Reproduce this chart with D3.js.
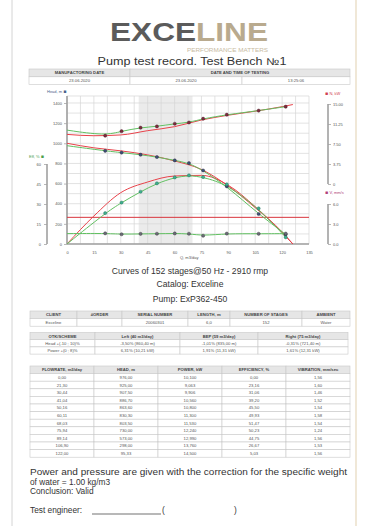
<!DOCTYPE html>
<html><head><meta charset="utf-8">
<script src="https://cdn.jsdelivr.net/npm/d3@7"></script>
<style>
html,body{margin:0;padding:0;background:#fff;}
svg{display:block;font-family:"Liberation Sans",Arial,sans-serif;}
</style></head>
<body><svg id="c" width="367" height="526"></svg>
<script>
// ---- data ----
const flow   = [0.00, 21.30, 30.44, 41.04, 50.16, 60.11, 68.03, 75.94, 89.14, 106.90, 122.00];
const head   = [976.00, 925.00, 907.50, 886.70, 863.60, 830.30, 803.50, 730.00, 573.00, 298.00, 95.33];
const power  = [10.100, 9.063, 9.906, 10.560, 10.800, 11.300, 11.530, 12.240, 12.990, 13.760, 14.500];
const eff    = [0.00, 23.16, 31.06, 39.20, 45.50, 49.93, 51.47, 50.23, 44.75, 26.67, 5.03];
const vib    = [1.56, 1.60, 1.46, 1.52, 1.54, 1.58, 1.54, 1.24, 1.56, 1.53, 1.56];

const catQ     = [0, 15, 30, 45, 60, 75, 90, 105, 120, 126];
const catHead  = [1000, 955, 925, 885, 825, 740, 575, 360, 120, 0];
const catEff   = [0, 21, 38.5, 46.5, 51, 51.5, 44, 28, 8.5, 0];
const catPower = [9.3, 9.05, 9.2, 10.0, 10.75, 12.0, 12.9, 13.65, 14.5, 14.9];

const workRange = [40, 70];
const vibLimit = 4;

const qTicks     = [0, 15, 30, 45, 60, 75, 90, 105, 120, 135];
const headTicks  = [0, 200, 400, 600, 800, 1000, 1200, 1400];
const effTicks   = [0, 15, 30, 45, 60];
const powerTicks = [0, 3.75, 7.5, 11.25, 15];
const powerLabels= ["0", "3.75", "7.50", "11.25", "15.00"];
const vibTicks   = [0, 3, 6];

const headerCols = ["MANUFACTORING DATE", "DATE AND TIME OF TESTING"];
const headerVals = ["23.06.2020", "23.06.2020", "13:25:06"];
const infoCols = ["CLIENT", "#ORDER", "SERIAL NUMBER", "LENGTH, m", "NUMBER OF STAGES", "AMBIENT"];
const infoVals = ["Exceline", "", "20060301", "6,0", "152", "Water"];
const otkCols = ["OTK/SCHEME", "Left (40 m3/day)", "BEP (59 m3/day)", "Right (75 m3/day)"];
const otkHead = ["Head +(-10 ; 10)%", "-3,50% (860,40 m)", "-1,01% (835,00 m)", "-0,31% (721,40 m)"];
const otkPower = ["Power +(0 ; 8)%", "6,31% (10,21 kW)", "1,91% (11,31 kW)", "1,61% (12,31 kW)"];
const dataCols = ["FLOWRATE, m3/day", "HEAD, m", "POWER, kW", "EFFICIENCY, %", "VIBRATION, mm/sec"];

// ---- drawing ----
const svg = d3.select("#c");
svg.append("rect").attr("width",367).attr("height",526).attr("fill","#fff");
svg.append("line").attr("x1",12).attr("x2",12).attr("y1",0).attr("y2",526).attr("stroke","#d4d4d4").attr("stroke-width",1);
svg.append("line").attr("x1",356).attr("x2",356).attr("y1",0).attr("y2",526).attr("stroke","#e6d8bd").attr("stroke-width",1.2);

// logo
const logo = svg.append("text").attr("x",110).attr("y",41).attr("font-size",25).attr("font-weight","bold")
  .attr("textLength",158).attr("lengthAdjust","spacingAndGlyphs");
logo.append("tspan").attr("fill","#5b5b5b").text("EXCE");
logo.append("tspan").attr("fill","#b9aa8e").text("LINE");
svg.append("text").attr("x",268).attr("y",52).attr("text-anchor","end").attr("font-size",5)
  .attr("fill","#c8bba3").attr("textLength",81).attr("lengthAdjust","spacingAndGlyphs").text("PERFORMANCE MATTERS");
svg.append("text").attr("x",192).attr("y",64.5).attr("text-anchor","middle").attr("font-size",10)
  .attr("fill","#333").attr("textLength",189).attr("lengthAdjust","spacingAndGlyphs").text("Pump test record. Test Bench №1");

const fmt = (d, n) => d.toFixed(n).replace(".", ",");

function table(cols, rows, y0, rowH) {
  const g = svg.append("g");
  rows.forEach((row, ri) => {
    let ci = 0;
    const y = y0 + ri * rowH;
    row.forEach(cell => {
      const span = cell.span || 1;
      const x0 = cols[ci], x1 = cols[ci + span];
      g.append("rect").attr("x",x0).attr("y",y).attr("width",x1-x0).attr("height",rowH)
        .attr("fill", ri === 0 ? "#e6e6e6" : "#fff").attr("stroke","#c8c8c8").attr("stroke-width",0.6);
      g.append("text").attr("x",(x0+x1)/2).attr("y",y + rowH/2 + 1.5).attr("text-anchor","middle")
        .attr("font-size", 4.2).attr("font-weight", ri === 0 ? "bold" : "normal")
        .attr("fill", ri === 0 ? "#444" : "#555").text(cell.t);
      ci += span;
    });
  });
}

table([29,130,242,350], [
  [{t:headerCols[0]},{t:headerCols[1],span:2}],
  headerVals.map(t=>({t}))
], 69, 7.8);

// ---- chart ----
const x = d3.scaleLinear([0,135],[67,309]);
const yHead = d3.scaleLinear([0,1400],[244,103]);
const yEff = d3.scaleLinear([0,60],[244,164]);
const yPow = d3.scaleLinear([0,15],[184,104]);
const yVib = d3.scaleLinear([0,6],[244,204]);
const plotTop = 96, plotBottom = 244;

const ch = svg.append("g");
ch.append("rect").attr("x",x(workRange[0])).attr("y",plotTop).attr("width",x(workRange[1])-x(workRange[0]))
  .attr("height",plotBottom-plotTop).attr("fill","#ebebeb");
// grid
d3.range(0, 135.01, 7.5).forEach(q => ch.append("line").attr("x1",x(q)).attr("x2",x(q))
  .attr("y1",plotTop).attr("y2",plotBottom).attr("stroke","#d6d6d6").attr("stroke-width",0.7));
d3.range(0, 1401, 100).forEach(h => ch.append("line").attr("x1",x(0)).attr("x2",x(135))
  .attr("y1",yHead(h)).attr("y2",yHead(h)).attr("stroke","#d6d6d6").attr("stroke-width",0.7));
ch.append("line").attr("x1",x(0)).attr("x2",x(135)).attr("y1",plotTop).attr("y2",plotTop).attr("stroke","#d6d6d6").attr("stroke-width",0.7);

// axes
function styleAxis(g){
  g.selectAll(".domain").remove();
  g.selectAll("line").attr("stroke","#999").attr("stroke-width",0.7);
  g.selectAll("text").attr("font-size",4).attr("fill","#555").attr("font-family","Liberation Sans, Arial");
}
const axLine = (x1,y1,x2,y2) => ch.append("line").attr("x1",x1).attr("x2",x2).attr("y1",y1).attr("y2",y2)
  .attr("stroke","#a0a0a0").attr("stroke-width",1.6);

ch.append("g").attr("transform","translate(0,244)")
  .call(d3.axisBottom(x).tickValues(qTicks).tickSize(0).tickPadding(7)).call(styleAxis);
axLine(x(0),244,x(135),244);
ch.append("g").attr("transform","translate(67,0)")
  .call(d3.axisLeft(yHead).tickValues(headTicks).tickFormat(d3.format("d")).tickSize(3).tickPadding(2)).call(styleAxis);
axLine(67,plotTop,67,244);
ch.append("g").attr("transform","translate(47,0)")
  .call(d3.axisLeft(yEff).tickValues(effTicks).tickSize(3).tickPadding(3)).call(styleAxis);
axLine(47,164,47,244);
ch.append("g").attr("transform","translate(328,0)")
  .call(d3.axisRight(yPow).tickValues(powerTicks).tickFormat((d,i)=>powerLabels[i]).tickSize(3).tickPadding(2)).call(styleAxis);
axLine(328,104,328,184);
ch.append("g").attr("transform","translate(328,0)")
  .call(d3.axisRight(yVib).tickValues(vibTicks).tickSize(3).tickPadding(2)).call(styleAxis);
axLine(328,204,328,244);

// axis titles
function title(xp, yp, txt, col, markerFirst){
  const t = ch.append("text").attr("x",xp).attr("y",yp).attr("font-size",4).attr("fill",col);
  if (markerFirst){ t.append("tspan").attr("font-size",5).text("■ "); t.append("tspan").text(txt); }
  else { t.append("tspan").text(txt + " "); t.append("tspan").attr("font-size",5).text("■"); }
}
title(47, 93, "Head, m", "#4a5f8c", false);
title(29, 158, "Eff, %", "#4aa04a", false);
title(325, 95, "N, kW", "#d04050", true);
title(325, 194, "V, mm/s", "#b0407a", true);
ch.append("text").attr("x",180).attr("y",259).attr("font-size",4).attr("fill","#555").text("Q, m3/day");

// limit line
ch.append("line").attr("x1",x(0)).attr("x2",x(135)).attr("y1",yVib(vibLimit)).attr("y2",yVib(vibLimit))
  .attr("stroke","#d8343c").attr("stroke-width",1);

const red = "#e8424a", green = "#62c062";
function curve(xs, ys, ysc, col, type){
  const pts = xs.map((q,i)=>[x(q), ysc(ys[i])]);
  ch.append("path").attr("d", d3.line().curve(type)(pts)).attr("fill","none")
    .attr("stroke",col).attr("stroke-width",1);
}
// catalog curves (red)
curve(catQ, catHead, yHead, red, d3.curveMonotoneX);
curve(catQ, catEff, yEff, red, d3.curveMonotoneX);
curve(catQ, catPower, yPow, red, d3.curveMonotoneX);
// fitted curves (green)
curve(flow, head, yHead, green, d3.curveBasis);
curve(flow, eff, yEff, green, d3.curveBasis);
curve(flow, power, yPow, green, d3.curveBasis);
curve(flow, vib, yVib, green, d3.curveBasis);

function dots(ys, ysc, fill, stroke){
  flow.forEach((q,i)=>{ if (q>0) ch.append("circle").attr("cx",x(q)).attr("cy",ysc(ys[i])).attr("r",1.6)
    .attr("fill",fill).attr("stroke",stroke).attr("stroke-width",0.4); });
}
dots(head, yHead, "#3d4f78", "#223");
dots(eff, yEff, "#3fae8e", "#1d6a55");
dots(power, yPow, "#7d2c3e", "#401520");
dots(vib, yVib, "#6b6b78", "#333");

// chart captions
[["Curves of 152 stages@50 Hz - 2910 rmp",273.5],["Catalog: Exceline",286.5],["Pump: ExP362-450",302]].forEach(([t,yy])=>
  svg.append("text").attr("x",190).attr("y",yy).attr("text-anchor","middle").attr("font-size",8.6).attr("fill","#333").text(t));

// info tables
table([30,77,122,188,230,302,350], [
  infoCols.map(t=>({t})), infoVals.map(t=>({t}))
], 311, 7.6);
table([30,95,180,258,348], [
  otkCols.map(t=>({t})), otkHead.map(t=>({t})), otkPower.map(t=>({t}))
], 332.5, 7.2);
const rows = [dataCols.map(t=>({t}))];
flow.forEach((q,i)=>rows.push([
  {t:fmt(q,2)},{t:fmt(head[i],2)},{t:fmt(power[i],3)},{t:fmt(eff[i],2)},{t:fmt(vib[i],2)}
]));
table([30,94,158,222,286,350], rows, 366, 7.6);

// footer text
const ft = [["Power and pressure are given with the correction for the specific weight",474.5],
            ["of water = 1.00 kg/m3",484.5],["Conclusion: Valid",493.5]];
ft.forEach(([t,yy],i)=>svg.append("text").attr("x",30).attr("y",yy).attr("font-size",8.3).attr("fill","#333")
  .attr("textLength", i===0 ? 317 : null).attr("lengthAdjust","spacingAndGlyphs").text(t));
svg.append("text").attr("x",30).attr("y",513).attr("font-size",8.3).attr("fill","#333").text("Test engineer:");
svg.append("line").attr("x1",92).attr("x2",161).attr("y1",514).attr("y2",514).attr("stroke","#333").attr("stroke-width",0.7);
svg.append("text").attr("x",162).attr("y",513).attr("font-size",8.3).attr("fill","#333").text("(");
svg.append("text").attr("x",234).attr("y",513).attr("font-size",8.3).attr("fill","#333").text(")");
</script></body></html>
